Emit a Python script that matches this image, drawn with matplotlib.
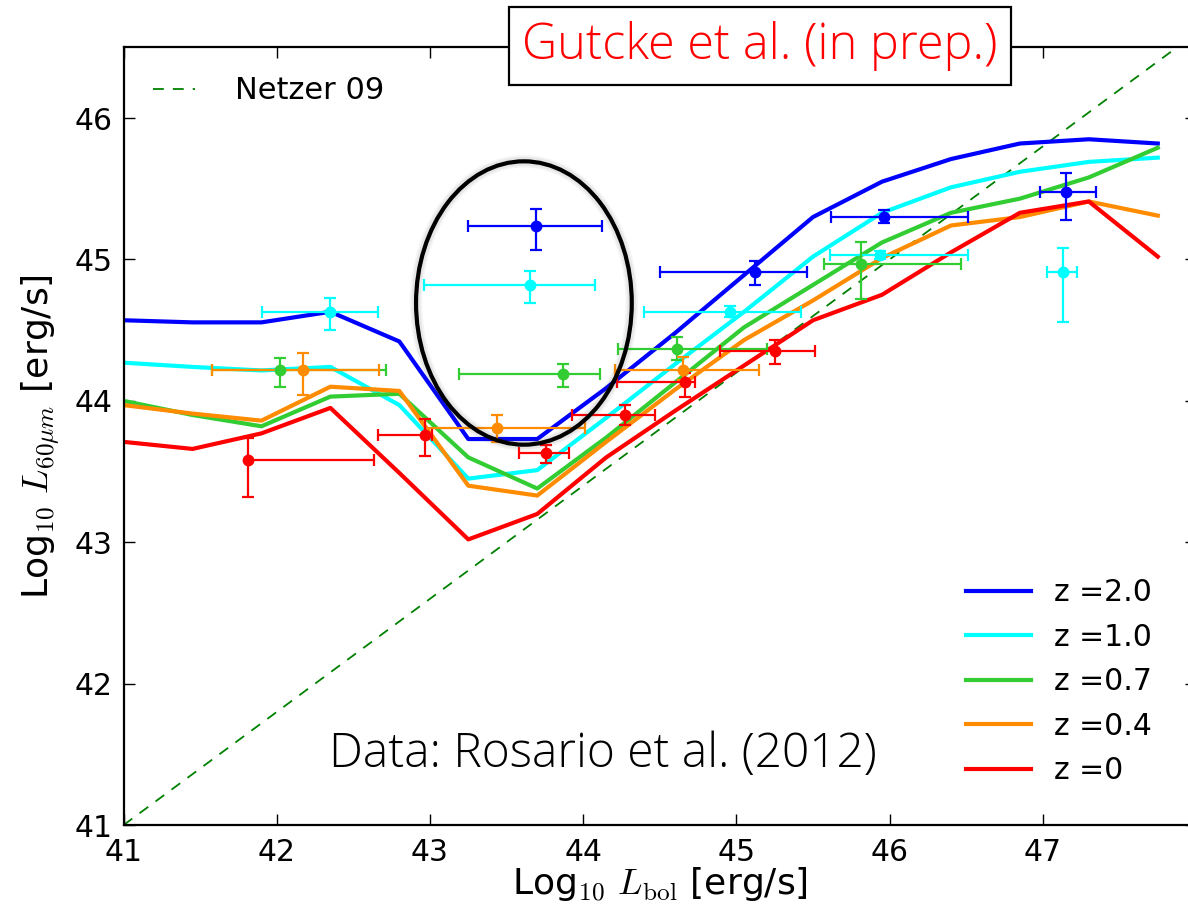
import numpy as np
import matplotlib
matplotlib.use("Agg")
import matplotlib.pyplot as plt
from matplotlib.patches import Ellipse
from matplotlib.lines import Line2D

plt.rcParams["font.family"] = ["DejaVu Sans"]
plt.rcParams["mathtext.fontset"] = "cm"

# model curves: log L_bol grid and log L_60um for each redshift
lbol_grid = [41.0, 41.45, 41.9, 42.35, 42.8, 43.25, 43.7, 44.15,
             44.6, 45.05, 45.5, 45.95, 46.4, 46.85, 47.3, 47.75]
l60_z20 = [44.57, 44.555, 44.555, 44.63, 44.42, 43.73, 43.73, 44.09,
           44.48, 44.89, 45.30, 45.55, 45.71, 45.82, 45.85, 45.82]
l60_z10 = [44.27, 44.24, 44.215, 44.24, 43.97, 43.45, 43.51, 43.88,
           44.26, 44.63, 45.02, 45.33, 45.51, 45.62, 45.69, 45.72]
l60_z07 = [44.00, 43.90, 43.82, 44.03, 44.05, 43.60, 43.38, 43.74,
           44.13, 44.52, 44.82, 45.12, 45.33, 45.43, 45.58, 45.79]
l60_z04 = [43.97, 43.91, 43.86, 44.10, 44.07, 43.40, 43.33, 43.71,
           44.08, 44.43, 44.71, 45.01, 45.24, 45.30, 45.41, 45.31]
l60_z00 = [43.71, 43.66, 43.77, 43.95, 43.49, 43.02, 43.20, 43.60,
           43.93, 44.25, 44.57, 44.75, 45.05, 45.33, 45.41, 45.02]

z_labels = ["z =2.0", "z =1.0", "z =0.7", "z =0.4", "z =0"]
z_colors = ["#0000ff", "#00ffff", "#32cd32", "#ff8c00", "#ff0000"]

# Netzer 09 relation end points
netzer_x = [41.0, 48.0]
netzer_y = [41.0, 46.6]

# Rosario et al. (2012) binned data: centre, lower/upper bounds
obs_x = {
    "z =2.0": [43.69, 45.12, 45.96, 47.15],
    "z =1.0": [42.35, 43.65, 44.96, 45.94, 47.13],
    "z =0.7": [42.02, 43.87, 44.61, 45.81],
    "z =0.4": [42.17, 43.44, 44.65],
    "z =0": [41.81, 42.97, 43.76, 44.27, 44.665, 45.25],
}
obs_y = {
    "z =2.0": [45.24, 44.91, 45.30, 45.48],
    "z =1.0": [44.63, 44.82, 44.63, 45.03, 44.91],
    "z =0.7": [44.215, 44.19, 44.37, 44.97],
    "z =0.4": [44.22, 43.81, 44.22],
    "z =0": [43.58, 43.76, 43.63, 43.90, 44.13, 44.35],
}
obs_xlo = {
    "z =2.0": [43.25, 44.50, 45.62, 46.98],
    "z =1.0": [41.906, 42.96, 44.40, 45.61, 47.03],
    "z =0.7": [41.58, 43.19, 44.23, 45.57],
    "z =0.4": [41.58, 42.97, 44.21],
    "z =0": [41.81, 42.66, 43.58, 43.93, 44.22, 44.89],
}
obs_xhi = {
    "z =2.0": [44.12, 45.46, 46.51, 47.35],
    "z =1.0": [42.66, 44.08, 45.42, 46.51, 47.22],
    "z =0.7": [42.71, 44.11, 45.20, 46.465],
    "z =0.4": [42.67, 44.01, 45.15],
    "z =0": [42.635, 43.01, 43.91, 44.47, 44.73, 45.51],
}
obs_ylo = {
    "z =2.0": [45.07, 44.82, 45.26, 45.28],
    "z =1.0": [44.50, 44.69, 44.59, 45.00, 44.56],
    "z =0.7": [44.10, 44.10, 44.29, 44.72],
    "z =0.4": [44.04, 43.71, 44.15],
    "z =0": [43.32, 43.61, 43.56, 43.83, 44.03, 44.26],
}
obs_yhi = {
    "z =2.0": [45.36, 44.99, 45.35, 45.61],
    "z =1.0": [44.73, 44.92, 44.67, 45.06, 45.08],
    "z =0.7": [44.30, 44.26, 44.45, 45.12],
    "z =0.4": [44.34, 43.90, 44.31],
    "z =0": [43.74, 43.87, 43.69, 43.97, 44.20, 44.43],
}


def main():
    fig = plt.figure(figsize=(11.88, 9.16), dpi=100)
    ax = fig.add_axes([0.1040, 0.0993, 0.9028, 0.8490])

    ax.plot(netzer_x, netzer_y, color="#008000", lw=1.3,
            linestyle=(0, (6, 5)), zorder=1)

    model_curves = [l60_z20, l60_z10, l60_z07, l60_z04, l60_z00]
    for lab, col, yy in zip(z_labels, z_colors, model_curves):
        ax.plot(lbol_grid, yy, color=col, lw=3, zorder=2, label=lab)

    for lab, col in zip(z_labels, z_colors):
        x = np.array(obs_x[lab])
        y = np.array(obs_y[lab])
        xerr = [x - np.array(obs_xlo[lab]), np.array(obs_xhi[lab]) - x]
        yerr = [y - np.array(obs_ylo[lab]), np.array(obs_yhi[lab]) - y]
        ax.errorbar(x, y, xerr=xerr, yerr=yerr, fmt="o", color=col,
                    ms=7.5, mec=col, elinewidth=1.6, capsize=4.5,
                    capthick=1.6, zorder=3)

    # highlight of the low-luminosity bins
    for lw, a in [(9, 0.05), (6.5, 0.08)]:
        ax.add_patch(Ellipse((43.613, 44.692), 1.408, 2.004, fill=False,
                             ec="0.3", lw=lw, alpha=a, zorder=4))
    ax.add_patch(Ellipse((43.613, 44.692), 1.408, 2.004, fill=False,
                         ec="black", lw=3, zorder=5))

    ax.set_xlim(41, 48)
    ax.set_ylim(41, 46.5)
    ax.set_xticks([41, 42, 43, 44, 45, 46, 47])
    ax.set_yticks([41, 42, 43, 44, 45, 46])
    ax.tick_params(direction="in", length=8, width=1, labelsize=21.5,
                   top=True, right=True)
    ax.tick_params(axis="x", pad=9)
    ax.tick_params(axis="y", pad=8)
    for sp in ax.spines.values():
        sp.set_linewidth(1.6)

    ax.set_xlabel(r"Log$_{10}$ $L_{\rm bol}$ [erg/s]", fontsize=26)
    ax.set_ylabel(r"Log$_{10}$ $L_{60\mu m}$ [erg/s]", fontsize=26)
    ax.xaxis.set_label_coords(0.5, -0.051)
    ax.yaxis.set_label_coords(-0.057, 0.5)

    # legends
    leg1 = ax.legend(loc="lower right", frameon=False, fontsize=21.5,
                     handlelength=2.2, handletextpad=0.75, labelspacing=0.52,
                     bbox_to_anchor=(0.978, 0.024), borderaxespad=0.3)
    ax.add_artist(leg1)
    netzer_handle = Line2D([], [], color="#008000", lw=1.3,
                           linestyle=(0, (6, 5)))
    ax.legend([netzer_handle], ["Netzer 09"], loc="upper left",
              frameon=False, fontsize=22, handlelength=1.4,
              handletextpad=1.3, borderaxespad=0.55)

    ax.text(0.1916, 0.075, "Data: Rosario et al. (2012)", transform=ax.transAxes,
            fontsize=34.5, family=["Open Sans", "DejaVu Sans"],
            fontweight="light", ha="left", va="baseline", zorder=6)

    fig.text(0.6397, 0.9498, "Gutcke et al. (in prep.)", color="red",
             fontsize=35, family=["Open Sans", "DejaVu Sans"],
             fontweight="light",
             ha="center", va="center", zorder=10,
             bbox=dict(boxstyle="square,pad=0.28", fc="white", ec="black",
                       lw=1.6))

    fig.savefig("out.png", dpi=100)
    plt.close(fig)


if __name__ == "__main__":
    main()
